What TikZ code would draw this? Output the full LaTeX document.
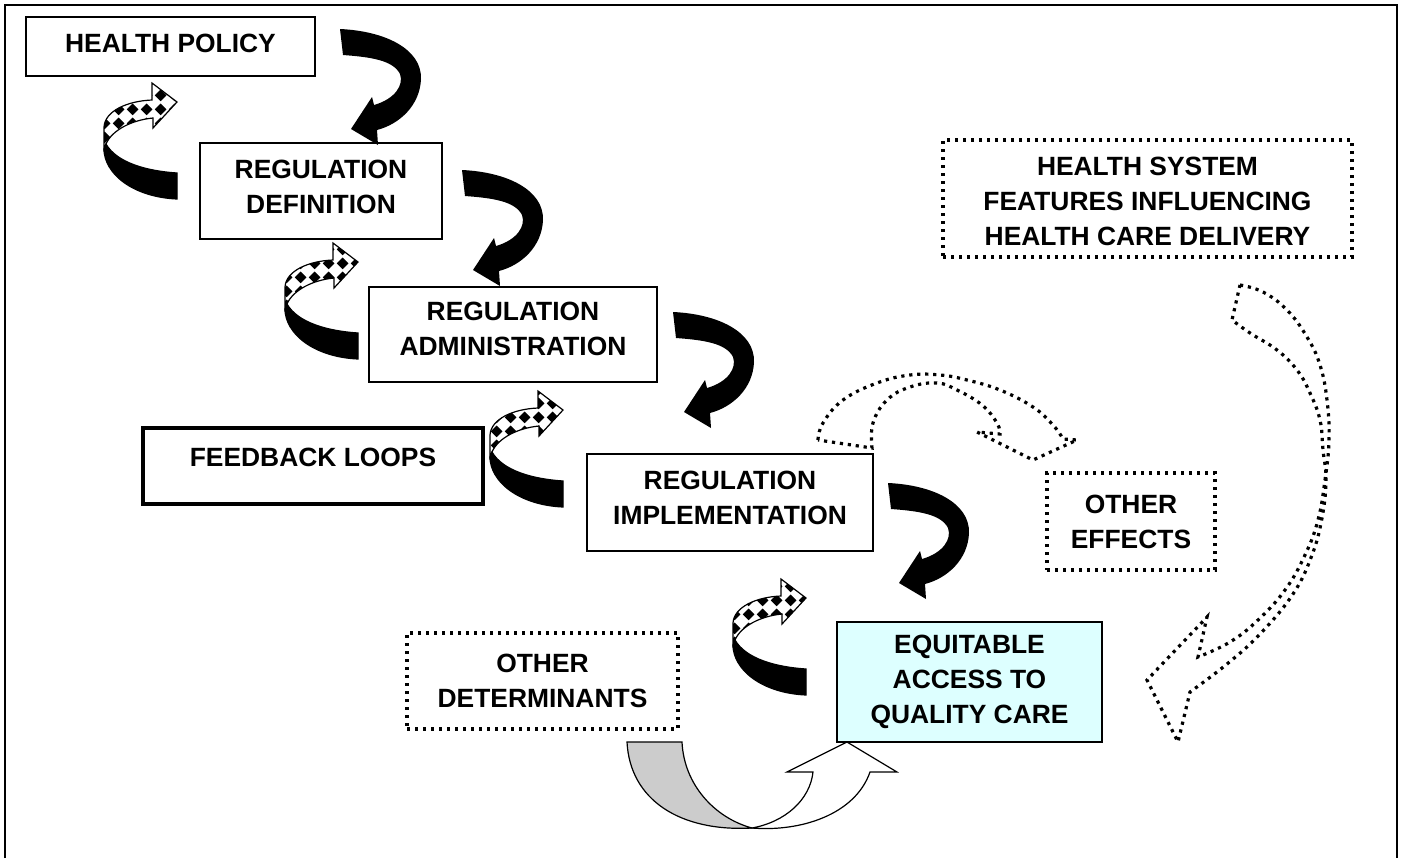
\documentclass[tikz,border=0pt]{standalone}
\usepackage{fontspec}
\setmainfont{Liberation Sans}
\usetikzlibrary{fit,calc,patterns}

% black diamonds on white, for the front face of the feedback ribbons
\pgfdeclarepatternformonly{diamonds}{\pgfqpoint{0pt}{0pt}}{\pgfqpoint{7pt}{7pt}}{\pgfqpoint{7pt}{7pt}}{%
  \pgfpathmoveto{\pgfqpoint{3.5pt}{0.4pt}}%
  \pgfpathlineto{\pgfqpoint{6.6pt}{3.5pt}}%
  \pgfpathlineto{\pgfqpoint{3.5pt}{6.6pt}}%
  \pgfpathlineto{\pgfqpoint{0.4pt}{3.5pt}}%
  \pgfpathclose\pgfusepath{fill}}

\definecolor{cyanfill}{HTML}{DDFFFF}
\definecolor{ribbongray}{HTML}{CCCCCC}

\tikzset{
  % solid black curved arrow, origin = upper corner of its tail
  turnarrow/.pic={
    \fill[black] (0,0) .. controls (45,2) and (82,20) .. (81,50)
      .. controls (80,76) and (60,95) .. (37,101) -- (38,116) -- (11,100)
      -- (32,68) -- (34,76) .. controls (55,70) and (64,56) .. (60,45)
      .. controls (53,31) and (30,28) .. (3,26) -- cycle;
  },
  % twisted feedback ribbon: black back face, patterned front face
  checkarrow/.pic={
    \path[fill=white, postaction={pattern=diamonds}, postaction={draw, line width=0.6pt}]
      (-73,-24) -- (-73,-46) .. controls (-72,-62) and (-50,-72) .. (-25,-73)
      -- (-25,-90) -- (0,-71) -- (-24,-45) -- (-24,-55)
      .. controls (-45,-53) and (-65,-43) .. (-71,-29) -- cycle;
    \filldraw[black, line width=0.6pt] (0,0) .. controls (-30,-2) and (-60,-10) .. (-71,-29)
      -- (-73,-24) .. controls (-73,0) and (-45,24) .. (0,26) -- cycle;
  }
}

\begin{document}
\begin{tikzpicture}[x=0.5pt, y=-0.5pt,
  box/.style={draw, line width=0.9pt, inner sep=0pt},
  heavybox/.style={draw, line width=2pt, inner sep=0pt},
  dotbox/.style={draw, line width=1.6pt, dash pattern=on 1.6pt off 2.4pt, inner sep=0pt},
  lbl/.style={font=\fontsize{13.2pt}{17.5pt}\selectfont\bfseries, align=center, inner sep=0pt},
  dotline/.style={line width=1.6pt, dash pattern=on 1.6pt off 2.4pt},
  rim/.style={line width=0.6pt},
]
\useasboundingbox (0,0) rectangle (1404,858);

% page frame, open at the bottom
\draw[line width=0.9pt] (5,858) -- (5,5) -- (1397,5) -- (1397,858);

% boxes
\node[box, fit={(26,17) (315,76)}] (hp) {};
\node[lbl] (hpt) at ($(hp.center)+(0,-3.5)$) {HEALTH POLICY};

\node[box, fit={(200,143) (442,239)}] (rd) {};
\node[lbl] (rdt) at ($(rd.center)+(0,-4.5)$) {REGULATION\\DEFINITION};

\node[box, fit={(369,287) (657,382)}] (ra) {};
\node[lbl] (rat) at ($(ra.center)+(0,-5.5)$) {REGULATION\\ADMINISTRATION};

\node[heavybox, fit={(143,428) (483,504)}] (fl) {};
\node[lbl] (flt) at ($(fl.center)+(0,-8.5)$) {FEEDBACK LOOPS};

\node[box, fit={(587,454) (873,551)}] (ri) {};
\node[lbl] (rit) at ($(ri.center)+(0,-5)$) {REGULATION\\IMPLEMENTATION};

\node[box, fill=cyanfill, fit={(837,622) (1102,742)}] (eq) {};
\node[lbl] (eqt) at (eq.center) {EQUITABLE\\ACCESS TO\\QUALITY CARE};

\node[dotbox, fit={(407,633) (678,729)}] (od) {};
\node[lbl] (odt) at (od.center) {OTHER\\DETERMINANTS};

\node[dotbox, fit={(1047,473) (1215,570)}] (oe) {};
\node[lbl] (oet) at (oe.center) {OTHER\\EFFECTS};

\node[dotbox, fit={(943,140) (1352,257)}] (hs) {};
\node[lbl] (hst) at ($(hs.center)+(0,2.5)$) {HEALTH SYSTEM\\FEATURES INFLUENCING\\HEALTH CARE DELIVERY};

% regulation chain
\pic at (340,29) {turnarrow};
\pic at (462,170) {turnarrow};
\pic at (673,312) {turnarrow};
\pic at (888,483) {turnarrow};

% feedback ribbons
\pic at (177,173) {checkarrow};
\pic at (358,333) {checkarrow};
\pic at (563,481) {checkarrow};
\pic at (806,669) {checkarrow};

% other effects of implementation
\draw[dotline] plot[smooth, tension=0.7] coordinates {(818,440) (823,423) (843,400) (877,383) (910,375) (940,375) (967,380) (1000,390) (1033,407) (1053,425) (1063,439)}
  -- (1077,440) -- (1033,460) -- (977,432)
  -- plot[smooth, tension=0.7] coordinates {(1000,434) (997,423) (982,405) (957,390) (937,383) (910,387) (887,400) (873,423) (872,448)}
  -- cycle;

% health system features acting on care delivery
\draw[dotline] plot[smooth, tension=0.7] coordinates {(1240,285) (1263,292) (1287,310) (1307,337) (1320,365) (1327,400) (1329,440) (1325,480) (1318,520) (1305,555) (1285,590) (1258,620) (1230,642) (1198,657)}
  -- (1207,617) -- (1147,680) -- (1178,742)
  -- plot[smooth, tension=0.7] coordinates {(1190,692) (1227,664) (1260,634) (1293,594) (1312,555) (1322,518) (1326,480) (1323,450) (1320,420) (1310,393) (1297,370) (1277,350) (1250,333) (1232,320)}
  -- cycle;

% other determinants feeding equitable access
\filldraw[fill=ribbongray, rim] (627,742) -- (682,742) .. controls (684,785) and (715,818) .. (752,828)
  .. controls (680,832) and (630,800) .. (627,742) -- cycle;
\filldraw[fill=white, rim] (752,828) .. controls (800,832) and (855,815) .. (870,772)
  -- (897,772) -- (847,742) -- (787,772) -- (813,772)
  .. controls (810,800) and (785,822) .. (752,828) -- cycle;
\end{tikzpicture}
\end{document}
